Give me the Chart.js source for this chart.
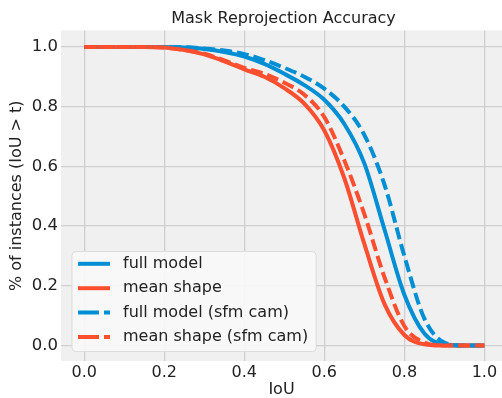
<!DOCTYPE html>
<html>
<head>
<meta charset="utf-8">
<script src="https://cdn.jsdelivr.net/npm/chart.js@4.4.1/dist/chart.umd.min.js"></script>
<style>
  body { margin: 0; background: #fff; }
</style>
</head>
<body>
<canvas id="myChart" width="502" height="398"></canvas>
<script>
// IoU thresholds and the fraction of instances above each one
const iouThresholds = [0, 0.05, 0.1, 0.15, 0.2, 0.25, 0.3, 0.35, 0.4, 0.45, 0.5,
                       0.55, 0.6, 0.65, 0.7, 0.75, 0.8, 0.85, 0.9, 0.95, 1.0];

const fullModel = [1, 1, 1, 1, 1, 0.998, 0.993, 0.983, 0.968, 0.943, 0.91,
                   0.872, 0.823, 0.742, 0.61, 0.39, 0.17, 0.04, 0.004, 0, 0];
const meanShape = [1, 1, 1, 1, 0.998, 0.99, 0.975, 0.952, 0.925, 0.9, 0.862,
                   0.81, 0.72, 0.56, 0.34, 0.14, 0.035, 0.004, 0, 0, 0];
const fullModelSfm = [1, 1, 1, 1, 1, 0.999, 0.995, 0.988, 0.976, 0.956, 0.93,
                      0.9, 0.86, 0.8, 0.705, 0.54, 0.30, 0.09, 0.01, 0, 0];
const meanShapeSfm = [1, 1, 1, 1, 0.998, 0.99, 0.977, 0.955, 0.93, 0.91, 0.88,
                      0.84, 0.765, 0.62, 0.44, 0.23, 0.065, 0.01, 0, 0, 0];

const seriesLabels = ['full model', 'mean shape', 'full model (sfm cam)', 'mean shape (sfm cam)'];
const xTicks = [0, 0.2, 0.4, 0.6, 0.8, 1.0];
const yTicks = [0, 0.2, 0.4, 0.6, 0.8, 1.0];

const BLUE = '#008fd5';
const RED = '#fc4f30';
const FONT = 'DejaVu Sans';

function toPoints(values) {
    return values.map((v, i) => ({ x: iouThresholds[i], y: v }));
}

const seriesValues = [fullModel, meanShape, fullModelSfm, meanShapeSfm];
const seriesColors = [BLUE, RED, BLUE, RED];
const seriesDash = [[], [], [12, 5], [12, 5]];
const legendDash = [[], [], [21, 5], [21, 5]];

const datasets = seriesValues.map((vals, i) => ({
    label: seriesLabels[i],
    data: toPoints(vals),
    borderColor: seriesColors[i],
    borderWidth: 4,
    borderDash: seriesDash[i],
    borderCapStyle: 'butt',
    pointRadius: 0,
    fill: false,
    cubicInterpolationMode: 'monotone',
    order: seriesValues.length - i   // later series drawn on top, like matplotlib
}));

// plot background + title
const backdropPlugin = {
    id: 'backdrop',
    beforeDraw(chart) {
        const { ctx, chartArea: { left, right, top, bottom } } = chart;
        ctx.save();
        ctx.fillStyle = '#f0f0f0';
        ctx.fillRect(left, top, right - left, bottom - top);
        ctx.restore();
    },
    afterDraw(chart) {
        const { ctx, chartArea: { left, right } } = chart;
        ctx.save();
        ctx.font = '16px "' + FONT + '"';
        ctx.fillStyle = '#222';
        ctx.textAlign = 'center';
        ctx.textBaseline = 'alphabetic';
        ctx.fillText('Mask Reprojection Accuracy', (left + right) / 2 + 2, 23);
        ctx.restore();
    }
};

// legend drawn inside the lower left of the plot
const insideLegendPlugin = {
    id: 'insideLegend',
    afterDraw(chart) {
        const { ctx, chartArea: { left, bottom } } = chart;
        const rowH = 24.4;
        ctx.save();
        ctx.font = '16px "' + FONT + '"';
        let maxW = 0;
        chart.data.datasets.forEach(ds => { maxW = Math.max(maxW, ctx.measureText(ds.label).width); });
        const boxX = left + 11;
        const boxH = 100;
        const boxY = bottom - 9.5 - boxH;
        const boxW = 6 + 32 + 13 + maxW + 8;

        ctx.beginPath();
        ctx.roundRect(boxX, boxY, boxW, boxH, 4);
        ctx.fillStyle = 'rgba(248,248,248,0.9)';
        ctx.fill();
        ctx.strokeStyle = '#dcdcdc';
        ctx.lineWidth = 1;
        ctx.stroke();

        chart.data.datasets.forEach((ds, i) => {
            const cy = boxY + 12.3 + i * rowH;
            ctx.beginPath();
            ctx.setLineDash(legendDash[i]);
            ctx.lineCap = 'butt';
            ctx.strokeStyle = ds.borderColor;
            ctx.lineWidth = 4;
            ctx.moveTo(boxX + 6, cy);
            ctx.lineTo(boxX + 38, cy);
            ctx.stroke();
            ctx.setLineDash([]);
            ctx.fillStyle = '#222';
            ctx.textAlign = 'left';
            ctx.textBaseline = 'middle';
            ctx.fillText(ds.label, boxX + 51, cy);
        });
        ctx.restore();
    }
};

const ctx = document.getElementById('myChart').getContext('2d');
const chart = new Chart(ctx, {
    type: 'line',
    data: { datasets: datasets },
    options: {
        responsive: false,
        animation: false,
        layout: { padding: { top: 30.5, left: 0, right: 0, bottom: 0 } },
        plugins: {
            legend: { display: false },
            tooltip: { enabled: false }
        },
        scales: {
            x: {
                type: 'linear',
                position: 'bottom',
                min: -0.058,
                max: 1.044,
                afterBuildTicks(scale) { scale.ticks = xTicks.map(v => ({ value: v })); },
                afterFit(scale) { scale.height = 37; },
                border: { display: false },
                grid: { color: '#cfcfcf', lineWidth: 1.3, drawTicks: false },
                ticks: {
                    padding: 2,
                    color: '#222',
                    font: { family: FONT, size: 16 },
                    callback: v => v.toFixed(1)
                },
                title: {
                    display: true,
                    text: 'IoU',
                    color: '#222',
                    font: { family: FONT, size: 16 },
                    padding: { top: 0, bottom: -1 }
                }
            },
            y: {
                min: -0.052,
                max: 1.055,
                afterBuildTicks(scale) { scale.ticks = yTicks.map(v => ({ value: v })); },
                afterFit(scale) { scale.width = 61; },
                border: { display: false },
                grid: { color: '#cfcfcf', lineWidth: 1.3, drawTicks: false },
                ticks: {
                    padding: 3,
                    color: '#222',
                    font: { family: FONT, size: 16.5 },
                    callback: v => v.toFixed(1)
                },
                title: {
                    display: true,
                    text: '% of instances (IoU > t)',
                    color: '#222',
                    font: { family: FONT, size: 16 },
                    padding: { top: 7, bottom: 0 }
                }
            }
        }
    },
    plugins: [backdropPlugin, insideLegendPlugin]
});
</script>
</body>
</html>
